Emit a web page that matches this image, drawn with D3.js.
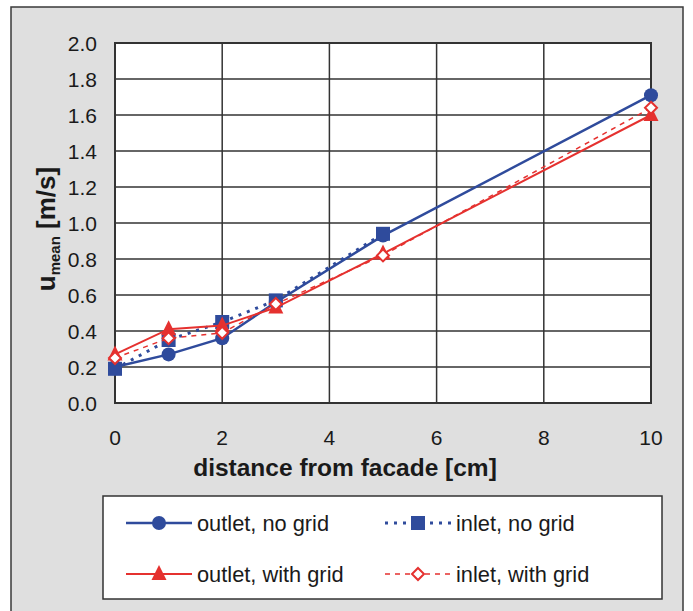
<!DOCTYPE html>
<html>
<head>
<meta charset="utf-8">
<script src="https://cdn.jsdelivr.net/npm/d3@7"></script>
<style>
  html, body { margin: 0; padding: 0; background: #fff; }
  svg { display: block; font-family: "Liberation Sans", Arial, sans-serif; }
</style>
</head>
<body>
<div id="chart"></div>
<script>
// distance from facade [cm]
const distances = [0, 1, 2, 3, 5, 10];

// u_mean [m/s] per series
const outletNoGrid   = [0.20, 0.27, 0.36, 0.56, 0.93, 1.71];
const inletNoGrid    = [0.19, 0.35, 0.45, 0.57, 0.94];
const outletWithGrid = [0.27, 0.41, 0.43, 0.53, 0.83, 1.60];
const inletWithGrid  = [0.25, 0.36, 0.39, 0.55, 0.82, 1.64];

const xTicks = [0, 2, 4, 6, 8, 10];
const yTicks = [0, 0.2, 0.4, 0.6, 0.8, 1.0, 1.2, 1.4, 1.6, 1.8, 2.0];

const BLUE = '#2f4b9c';
const RED = '#e5312f';

const series = [
  { name: 'outlet, no grid',   values: outletNoGrid,   color: BLUE, width: 2.5, dash: null,  marker: 'circle' },
  { name: 'inlet, no grid',    values: inletNoGrid,    color: BLUE, width: 3,   dash: '3,6', marker: 'square' },
  { name: 'outlet, with grid', values: outletWithGrid, color: RED,  width: 2,   dash: null,  marker: 'triangle' },
  { name: 'inlet, with grid',  values: inletWithGrid,  color: RED,  width: 1.5, dash: '5,5', marker: 'diamond' }
];

const W = 693, H = 611;
const plot = { left: 115, right: 651, top: 43, bottom: 403 };

const svg = d3.select('#chart').append('svg')
  .attr('width', W).attr('height', H);

// outer panel
svg.append('rect')
  .attr('x', 11).attr('y', 7).attr('width', 672).attr('height', 620)
  .attr('fill', '#dfdfdf').attr('stroke', '#3a3a3a').attr('stroke-width', 1.5);

const x = d3.scaleLinear().domain([0, 10]).range([plot.left, plot.right]);
const y = d3.scaleLinear().domain([0, 2]).range([plot.bottom, plot.top]);

svg.append('rect')
  .attr('x', plot.left).attr('y', plot.top)
  .attr('width', plot.right - plot.left).attr('height', plot.bottom - plot.top)
  .attr('fill', '#fff');

// grid
const grid = svg.append('g').attr('stroke', '#333').attr('stroke-width', 1.5);
grid.selectAll('line.h').data(yTicks).enter().append('line')
  .attr('x1', plot.left).attr('x2', plot.right)
  .attr('y1', d => y(d)).attr('y2', d => y(d));
grid.selectAll('line.v').data(xTicks).enter().append('line')
  .attr('y1', plot.top).attr('y2', plot.bottom)
  .attr('x1', d => x(d)).attr('x2', d => x(d));

svg.append('rect')
  .attr('x', plot.left).attr('y', plot.top)
  .attr('width', plot.right - plot.left).attr('height', plot.bottom - plot.top)
  .attr('fill', 'none').attr('stroke', '#333').attr('stroke-width', 2);

// tick labels
svg.append('g').selectAll('text').data(yTicks).enter().append('text')
  .attr('x', 97).attr('y', d => y(d) + 8)
  .attr('text-anchor', 'end').attr('font-size', 21).attr('fill', '#1a1a1a')
  .text(d => d.toFixed(1));

svg.append('g').selectAll('text').data(xTicks).enter().append('text')
  .attr('x', d => x(d)).attr('y', 445)
  .attr('text-anchor', 'middle').attr('font-size', 21).attr('fill', '#1a1a1a')
  .text(d => d);

// axis titles
svg.append('text')
  .attr('x', 345).attr('y', 476)
  .attr('text-anchor', 'middle').attr('font-size', 24.5).attr('font-weight', 'bold')
  .attr('fill', '#1a1a1a')
  .text('distance from facade [cm]');

const yTitle = svg.append('text')
  .attr('transform', 'translate(55,229) rotate(-90)')
  .attr('text-anchor', 'middle').attr('font-size', 26).attr('font-weight', 'bold')
  .attr('fill', '#1a1a1a');
yTitle.append('tspan').text('u');
yTitle.append('tspan').attr('font-size', 15).attr('dy', 5).text('mean');
yTitle.append('tspan').attr('dy', -5).text(' [m/s]');

// markers
function drawMarker(sel, type, color, cx, cy) {
  if (type === 'circle') {
    sel.append('circle').attr('cx', cx).attr('cy', cy).attr('r', 7).attr('fill', color);
  } else if (type === 'square') {
    sel.append('rect').attr('x', cx - 7).attr('y', cy - 7)
      .attr('width', 14).attr('height', 14).attr('fill', color);
  } else if (type === 'triangle') {
    sel.append('path')
      .attr('d', `M${cx},${cy - 9}L${cx + 7.5},${cy + 6}L${cx - 7.5},${cy + 6}Z`)
      .attr('fill', color);
  } else if (type === 'diamond') {
    sel.append('path')
      .attr('d', `M${cx},${cy - 6}L${cx + 6},${cy}L${cx},${cy + 6}L${cx - 6},${cy}Z`)
      .attr('fill', '#fff').attr('stroke', color).attr('stroke-width', 2);
  }
}

const line = d3.line().x(d => x(d[0])).y(d => y(d[1]));

series.forEach(s => {
  const pts = s.values.map((v, i) => [distances[i], v]);
  const g = svg.append('g');
  g.append('path')
    .attr('d', line(pts))
    .attr('fill', 'none')
    .attr('stroke', s.color)
    .attr('stroke-width', s.width)
    .attr('stroke-dasharray', s.dash);
  pts.forEach(p => drawMarker(g, s.marker, s.color, x(p[0]), y(p[1])));
});

// legend
const legend = svg.append('g');
legend.append('rect')
  .attr('x', 103).attr('y', 496).attr('width', 559).attr('height', 103)
  .attr('fill', '#fff').attr('stroke', '#333').attr('stroke-width', 1.5);

const legendPos = [
  { x1: 126, y: 523 }, { x1: 385, y: 523 },
  { x1: 126, y: 574 }, { x1: 385, y: 574 }
];

series.forEach((s, i) => {
  const p = legendPos[i];
  const g = legend.append('g');
  g.append('line')
    .attr('x1', p.x1).attr('x2', p.x1 + 66)
    .attr('y1', p.y).attr('y2', p.y)
    .attr('stroke', s.color).attr('stroke-width', s.width)
    .attr('stroke-dasharray', s.dash);
  drawMarker(g, s.marker, s.color, p.x1 + 33, p.y);
  g.append('text')
    .attr('x', p.x1 + 71).attr('y', p.y + 7.5)
    .attr('font-size', 21.8).attr('fill', '#1a1a1a')
    .text(s.name);
});
</script>
</body>
</html>
